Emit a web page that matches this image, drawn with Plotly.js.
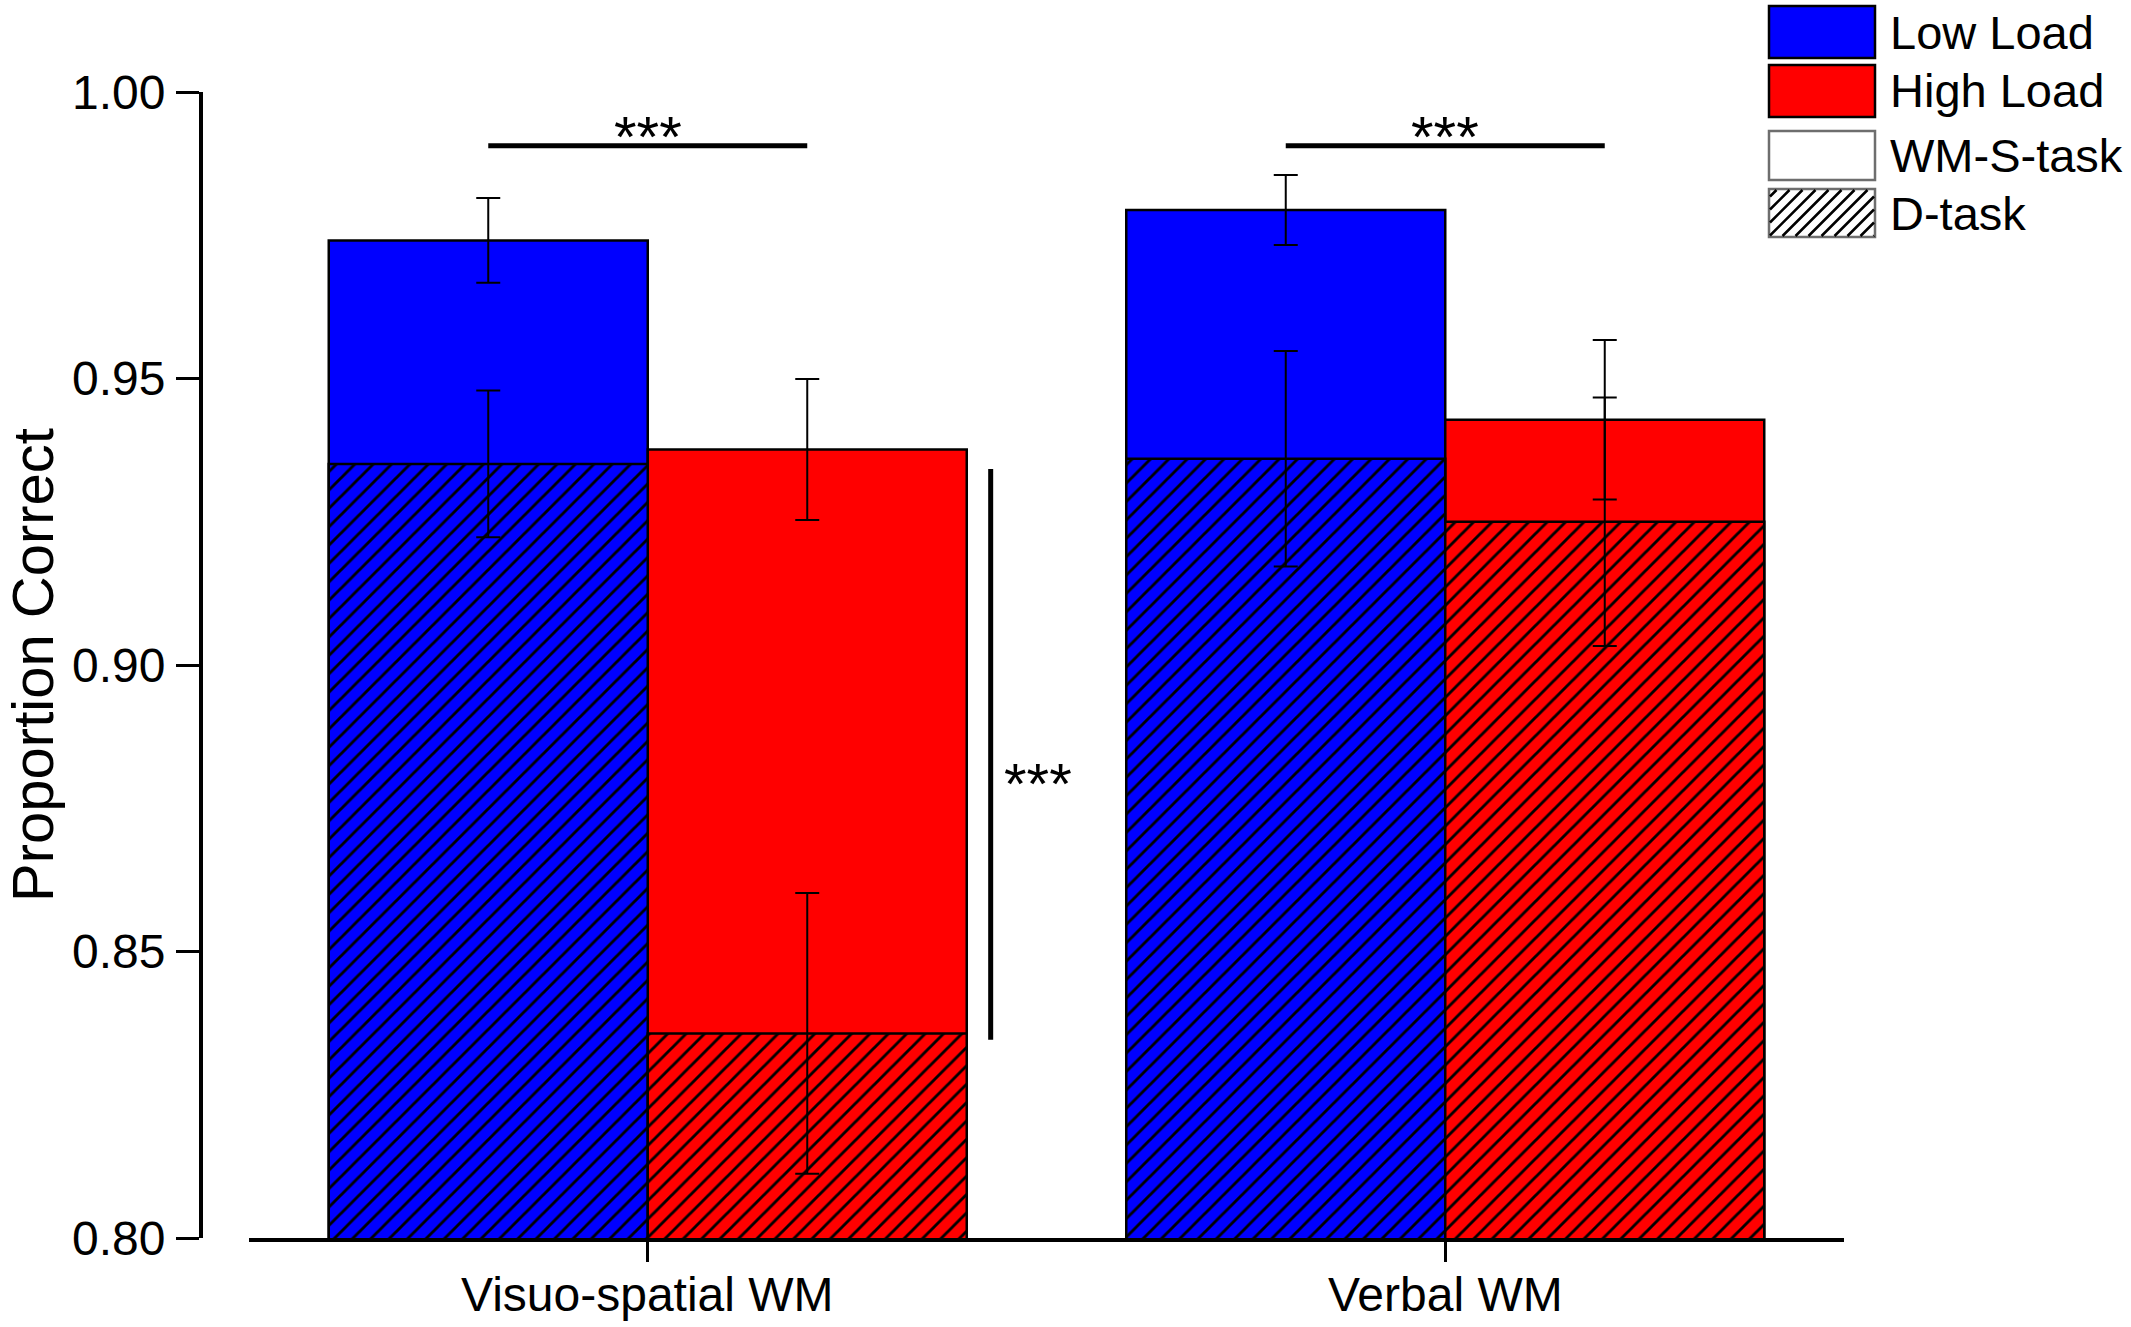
<!DOCTYPE html>
<html>
<head>
<meta charset="utf-8">
<script src="https://cdn.plot.ly/plotly-3.0.1.min.js"></script>
<style>
  html, body { margin: 0; padding: 0; background: #ffffff; }
  #chart { width: 2131px; height: 1327px; }
</style>
</head>
<body>
<div id="chart"></div>
<script>
// ---------------- data ----------------
const categories = ['Visuo-spatial WM', 'Verbal WM'];

const lowLoadWMS     = [0.9741, 0.9794];
const lowLoadWMSErr  = [0.0074, 0.0061];
const highLoadWMS    = [0.9376, 0.9428];
const highLoadWMSErr = [0.0123, 0.0139];

const lowLoadD       = [0.9351, 0.9360];
const lowLoadDErr    = [0.0128, 0.0188];
const highLoadD      = [0.8357, 0.9250];
const highLoadDErr   = [0.0245, 0.0217];

const yTickVals = [0.80, 0.85, 0.90, 0.95, 1.00];
const yTickText = ['0.80', '0.85', '0.90', '0.95', '1.00'];

const legendLabels = ['Low Load', 'High Load', 'WM-S-task', 'D-task'];
const sigLabel = '***';
const yTitle = 'Proportion Correct';

// ---------------- style ----------------
const BLUE = '#0000FF';
const RED = '#FF0000';
const FONT = '"Liberation Sans", Arial, Helvetica, sans-serif';

const W = 2131, H = 1327;
const M = { l: 201, r: 287, t: 92, b: 89 };
const plotW = W - M.l - M.r;
const plotH = H - M.t - M.b;
const PX = px => (px - M.l) / plotW;
const PY = py => (H - M.b - py) / plotH;

function errStyle(arr) {
  return { type: 'data', array: arr, visible: true, color: '#000000', thickness: 2, width: 12 };
}

const traces = [
  {
    type: 'bar', name: 'Low Load WM-S-task', x: categories, y: lowLoadWMS,
    offsetgroup: 'low', showlegend: false,
    marker: { color: BLUE, line: { color: '#000000', width: 2.5 } },
    error_y: errStyle(lowLoadWMSErr), hoverinfo: 'skip'
  },
  {
    type: 'bar', name: 'High Load WM-S-task', x: categories, y: highLoadWMS,
    offsetgroup: 'high', showlegend: false,
    marker: { color: RED, line: { color: '#000000', width: 2.5 } },
    error_y: errStyle(highLoadWMSErr), hoverinfo: 'skip'
  },
  {
    type: 'bar', name: 'Low Load D-task', x: categories, y: lowLoadD,
    offsetgroup: 'low', showlegend: false,
    marker: { color: BLUE, line: { color: '#000000', width: 2.5 },
      pattern: { shape: '/', fgcolor: '#000000', bgcolor: BLUE, size: 13, solidity: 0.22, fillmode: 'replace' } },
    error_y: errStyle(lowLoadDErr), hoverinfo: 'skip'
  },
  {
    type: 'bar', name: 'High Load D-task', x: categories, y: highLoadD,
    offsetgroup: 'high', showlegend: false,
    marker: { color: RED, line: { color: '#000000', width: 2.5 },
      pattern: { shape: '/', fgcolor: '#000000', bgcolor: RED, size: 13, solidity: 0.22, fillmode: 'replace' } },
    error_y: errStyle(highLoadDErr), hoverinfo: 'skip'
  }
];

// bar geometry helpers (category units)
const bargap = 0.2;
const halfBar = (1 - bargap) / 4; // centre offset of each bar inside a group

// ---------------- significance marks ----------------
const shapes = [];
const annotations = [];
const sigY = 0.9906;
categories.forEach((c, i) => {
  shapes.push({ type: 'line', xref: 'x', yref: 'y', x0: i - halfBar, x1: i + halfBar, y0: sigY, y1: sigY,
    line: { color: '#000000', width: 5 } });
  annotations.push({ xref: 'x', yref: 'y', x: i, y: 0.9922, text: sigLabel, showarrow: false,
    xanchor: 'center', yanchor: 'middle', font: { family: FONT, size: 58, color: '#000000' } });
});
shapes.push({ type: 'line', xref: 'x', yref: 'y', x0: 0.43, x1: 0.43, y0: 0.8346, y1: 0.9342,
  line: { color: '#000000', width: 5 } });
annotations.push({ xref: 'x', yref: 'y', x: 0.444, y: 0.8794, text: sigLabel, showarrow: false,
  xanchor: 'left', yanchor: 'middle', font: { family: FONT, size: 58, color: '#000000' } });

// ---------------- x category labels (as text under the axis) ----------------
categories.forEach((c, i) => {
  annotations.push({ xref: 'x', yref: 'paper', x: i, y: PY(1294), text: c, showarrow: false,
    xanchor: 'center', yanchor: 'middle', font: { family: FONT, size: 48, color: '#000000' } });
});

// ---------------- custom legend (large swatches) ----------------
const legBoxes = [
  { y0: 6,   y1: 58,  fill: BLUE,      border: '#000000', hatch: false },
  { y0: 65,  y1: 117, fill: RED,       border: '#000000', hatch: false },
  { y0: 131, y1: 180, fill: '#FFFFFF', border: '#6e6e6e', hatch: false },
  { y0: 189, y1: 237, fill: '#FFFFFF', border: '#6e6e6e', hatch: true }
];
const legX0 = 1769, legX1 = 1875, legTextX = 1888;

function hatchPath(x0, y0, x1, y1, step) {
  const h = y1 - y0;
  let d = '';
  for (let c = x0 - h + step / 2; c < x1; c += step) {
    const tmin = Math.max(0, (x0 - c) / h);
    const tmax = Math.min(1, (x1 - c) / h);
    if (tmax <= tmin) continue;
    const ax = c + tmin * h, ay = y1 - tmin * h;
    const bx = c + tmax * h, by = y1 - tmax * h;
    d += 'M' + PX(ax).toFixed(5) + ',' + PY(ay).toFixed(5) + ' L' + PX(bx).toFixed(5) + ',' + PY(by).toFixed(5) + ' ';
  }
  return d;
}

legBoxes.forEach((b, i) => {
  shapes.push({ type: 'rect', xref: 'paper', yref: 'paper',
    x0: PX(legX0), x1: PX(legX1), y0: PY(b.y1), y1: PY(b.y0),
    fillcolor: b.fill, line: { color: b.border, width: 2.5 } });
  if (b.hatch) {
    shapes.push({ type: 'path', xref: 'paper', yref: 'paper',
      path: hatchPath(legX0 + 1, b.y0 + 1, legX1 - 1, b.y1 - 1, 13),
      line: { color: '#000000', width: 2.5 } });
  }
  annotations.push({ xref: 'paper', yref: 'paper', x: PX(legTextX), y: PY((b.y0 + b.y1) / 2),
    text: legendLabels[i], showarrow: false, xanchor: 'left', yanchor: 'middle',
    font: { family: FONT, size: 47, color: '#000000' } });
});

// ---------------- layout ----------------
const layout = {
  width: W, height: H,
  margin: { l: M.l, r: M.r, t: M.t, b: M.b, pad: 0 },
  paper_bgcolor: '#FFFFFF', plot_bgcolor: '#FFFFFF',
  font: { family: FONT, color: '#000000' },
  barmode: 'group', bargap: bargap, bargroupgap: 0,
  showlegend: false,
  xaxis: {
    type: 'category', domain: [48 / plotW, 1], range: [-0.5, 1.5],
    showline: true, linecolor: '#000000', linewidth: 4,
    ticks: 'outside', ticklen: 20, tickwidth: 3, tickcolor: '#000000',
    showticklabels: false,
    showgrid: false, zeroline: false, automargin: false, fixedrange: true
  },
  yaxis: {
    anchor: 'free', position: 0, range: [0.8, 1.0],
    tickvals: yTickVals, ticktext: yTickText,
    showline: true, linecolor: '#000000', linewidth: 4,
    ticks: 'outside', ticklen: 23, tickwidth: 3, tickcolor: '#000000',
    tickfont: { family: FONT, size: 48, color: '#000000' },
    ticklabelstandoff: 1,
    title: { text: yTitle, font: { family: FONT, size: 58, color: '#000000' }, standoff: 18 },
    showgrid: false, zeroline: false, automargin: false, fixedrange: true
  },
  shapes: shapes,
  annotations: annotations
};

Plotly.newPlot('chart', traces, layout, { displayModeBar: false, staticPlot: true });
</script>
</body>
</html>
